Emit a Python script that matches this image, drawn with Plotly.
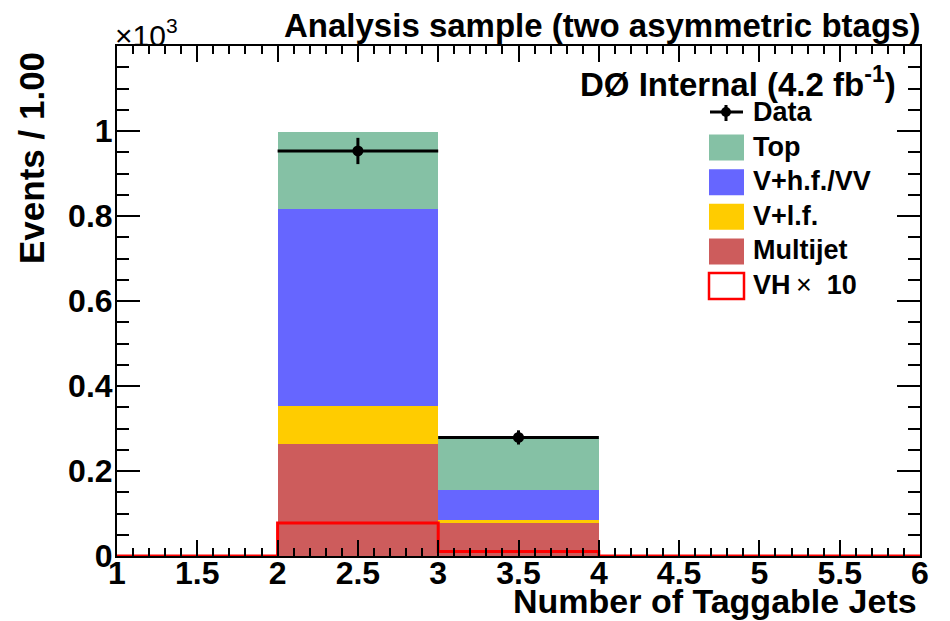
import numpy as np
import plotly.graph_objects as go

# Binning: number of taggable jets, bins of width 1 from 1 to 6
bin_edges = [1, 2, 3, 4, 5, 6]
bin_centers = [1.5, 2.5, 3.5, 4.5, 5.5]

# Event counts per bin
multijet = [0, 264, 78, 0, 0]
v_lf = [0, 88, 7, 0, 0]
v_hf_vv = [0, 464, 70, 0, 0]
top = [0, 182, 128, 0, 0]
vh = [0, 7.75, 1.06, 0, 0]
vh_scale = 10
data = [0, 953, 279, 0, 0]

x_ticks = [1, 1.5, 2, 2.5, 3, 3.5, 4, 4.5, 5, 5.5, 6]
x_ticktext = ["1", "1.5", "2", "2.5", "3", "3.5", "4", "4.5", "5", "5.5", "6"]
y_ticks = [0, 0.2, 0.4, 0.6, 0.8, 1.0]
y_ticktext = ["0", "0.2", "0.4", "0.6", "0.8", "1"]

FONT = "Liberation Sans"
W, H = 950, 621
L, R, T, B = 117, 30, 46, 65
PW, PH = W - L - R, H - T - B


def px(xp):
    return (xp - L) / PW


def py(yp):
    return (H - B - yp) / PH


scale = 1e-3  # axis shown in units of 10^3

fig = go.Figure()

stack = [
    ("Multijet", multijet, "#CD5C5C"),
    ("V+l.f.", v_lf, "#FFCC00"),
    ("V+h.f./VV", v_hf_vv, "#6666FF"),
    ("Top", top, "#85C1A5"),
]
for name, vals, col in stack:
    fig.add_trace(go.Bar(
        x=bin_centers, y=[v * scale for v in vals], width=1.0,
        marker=dict(color=col, line=dict(width=0)), name=name,
        showlegend=False,
    ))

# VH signal (scaled) as a step outline
vh_y = [v * vh_scale * scale for v in vh]
step_x = bin_edges[:-1] + [bin_edges[-1]]
step_y = vh_y + [vh_y[-1]]
fig.add_trace(go.Scatter(
    x=step_x, y=step_y, mode="lines", line=dict(color="#FF0000", width=3, shape="hv"),
    showlegend=False, hoverinfo="skip",
))

# Data points with statistical errors
dx = [c for c, d in zip(bin_centers, data) if d > 0]
dy = [d * scale for d in data if d > 0]
derr = [np.sqrt(d) * scale for d in data if d > 0]
fig.add_trace(go.Scatter(
    x=dx, y=dy, mode="markers",
    marker=dict(color="black", size=11),
    error_x=dict(type="constant", value=0.5, thickness=3, width=0, color="black"),
    error_y=dict(type="data", array=derr, thickness=3, width=0, color="black"),
    showlegend=False,
))

axis_font = dict(family=FONT, size=32, color="black", weight=700)

fig.update_layout(
    width=W, height=H,
    margin=dict(l=L, r=R, t=T, b=B),
    paper_bgcolor="white", plot_bgcolor="white",
    barmode="stack", bargap=0,
    xaxis=dict(
        range=[1, 6], tickvals=x_ticks, ticktext=x_ticktext,
        ticks="inside", ticklen=16, tickwidth=1.5, tickcolor="black",
        minor=dict(dtick=0.1, tick0=1, ticks="inside", ticklen=8, tickwidth=1.5, tickcolor="black"),
        showline=True, linecolor="black", linewidth=2, mirror="allticks",
        showgrid=False, zeroline=False, tickfont=axis_font, ticklabelstandoff=-12,
    ),
    yaxis=dict(
        range=[0, 1.2], tickvals=y_ticks, ticktext=y_ticktext,
        ticks="inside", ticklen=23, tickwidth=1.5, tickcolor="black",
        minor=dict(dtick=0.05, tick0=0, ticks="inside", ticklen=12, tickwidth=1.5, tickcolor="black"),
        showline=True, linecolor="black", linewidth=2, mirror="allticks",
        showgrid=False, zeroline=False, tickfont=axis_font, ticklabelstandoff=-4,
    ),
    showlegend=False,
)

big = dict(family=FONT, size=33, color="black", weight=700)
axt = dict(family=FONT, size=35, color="black", weight=700)
ann = []
ann.append(dict(x=px(922), y=py(26), xref="paper", yref="paper", xanchor="right", yanchor="middle",
                text="Analysis sample (two asymmetric btags)", showarrow=False, font=big))
ann.append(dict(x=px(113), y=py(33), xref="paper", yref="paper", xanchor="left", yanchor="middle",
                text="×10<sup>3</sup>", showarrow=False,
                font=dict(family=FONT, size=30, color="black")))
ann.append(dict(x=px(898), y=py(82), xref="paper", yref="paper", xanchor="right", yanchor="middle",
                text="DØ Internal (4.2 fb<sup>-1</sup>)", showarrow=False, font=big))
ann.append(dict(x=px(919), y=py(601), xref="paper", yref="paper", xanchor="right", yanchor="middle",
                text="Number of Taggable Jets", showarrow=False,
                font=dict(family=FONT, size=34, color="black", weight=700)))
ann.append(dict(x=px(31), y=py(50), xref="paper", yref="paper", xanchor="center", yanchor="top",
                text="Events / 1.00", textangle=-90, showarrow=False, font=axt))

# Legend drawn by hand
leg_font = dict(family=FONT, size=27, color="black", weight=700)
leg_items = [
    ("Data", None, None),
    ("Top", "#85C1A5", None),
    ("V+h.f./VV", "#6666FF", None),
    ("V+l.f.", "#FFCC00", None),
    ("Multijet", "#CD5C5C", None),
    ("VH\u2009<span style='font-weight:normal'>×</span>\u00a0 10", "white", "#FF0000"),
]
y0 = 112
step = 34.6
shapes = []
for i, (label, fillc, linec) in enumerate(leg_items):
    yc = y0 + i * step
    ann.append(dict(x=px(751), y=py(yc), xref="paper", yref="paper", xanchor="left", yanchor="middle",
                    text=label, showarrow=False, font=leg_font))
    if fillc is None:
        shapes.append(dict(type="line", xref="paper", yref="paper", x0=px(710), x1=px(743),
                           y0=py(yc), y1=py(yc), line=dict(color="black", width=3)))
        shapes.append(dict(type="line", xref="paper", yref="paper", x0=px(726), x1=px(726),
                           y0=py(yc - 7), y1=py(yc + 9), line=dict(color="black", width=3)))
        shapes.append(dict(type="circle", xref="paper", yref="paper", x0=px(721), x1=px(731),
                           y0=py(yc - 5), y1=py(yc + 5), fillcolor="black", line=dict(width=0)))
    else:
        shapes.append(dict(type="rect", xref="paper", yref="paper", x0=px(709), x1=px(744),
                           y0=py(yc - 12), y1=py(yc + 14), fillcolor=fillc,
                           line=dict(color=linec if linec else fillc, width=2.5 if linec else 0)))

fig.update_layout(annotations=ann, shapes=shapes)
fig.write_html("out.html")
